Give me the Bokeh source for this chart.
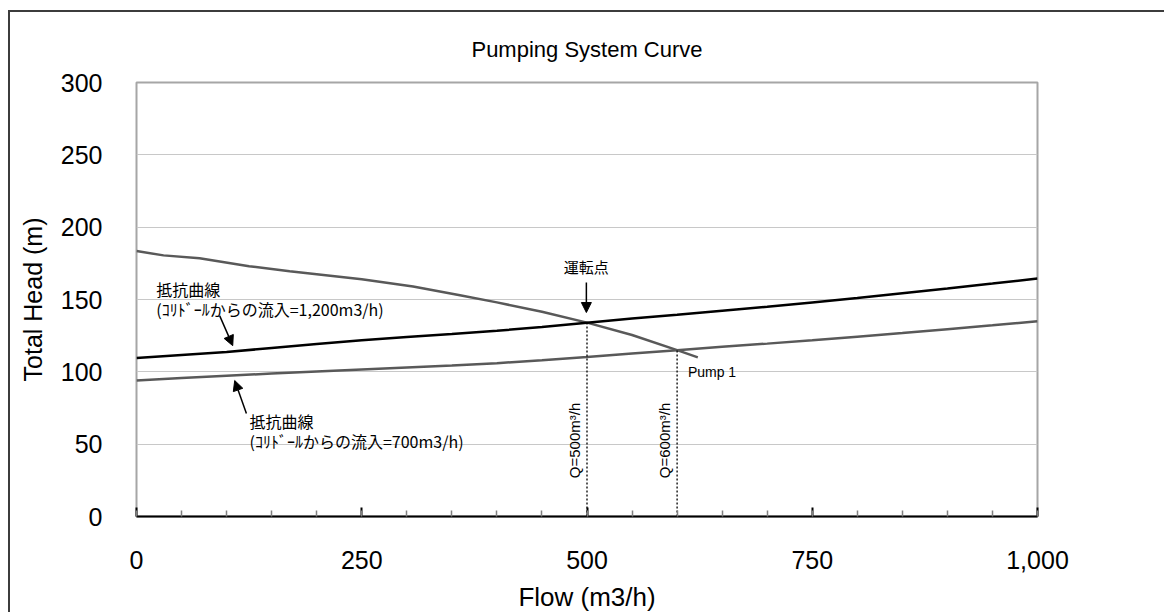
import math
from bokeh.plotting import figure
from bokeh.models import FixedTicker, NumeralTickFormatter, Arrow, NormalHead, Range1d
from bokeh.core.properties import value
from bokeh.embed import file_html
from bokeh.resources import INLINE

# ---------------- data ----------------
title_text = "Pumping System Curve"
x_label = "Flow (m3/h)"
y_label = "Total Head (m)"
x_ticks = [0, 250, 500, 750, 1000]
x_minor = [0, 50, 100, 150, 200, 250, 300, 350, 400, 450, 500, 550, 600, 650, 700, 750, 800, 850, 900, 950, 1000]
y_ticks = [0, 50, 100, 150, 200, 250, 300]

flow_sys = [0, 50, 100, 150, 200, 250, 300, 350, 400, 450, 500, 550, 600, 650, 700, 750, 800, 850, 900, 950, 1000]
head_1200 = [109.6, 111.7, 113.7, 116.5, 119.3, 121.8, 124.0, 126.1, 128.4, 131.0, 134.0, 136.8, 139.5, 142.3, 145.0, 148.0, 151.0, 154.3, 157.6, 161.0, 164.5]
head_700 = [94.0, 95.7, 97.3, 98.8, 100.2, 101.6, 103.0, 104.3, 106.0, 108.0, 110.2, 112.6, 115.0, 117.3, 119.5, 121.8, 124.3, 126.8, 129.5, 132.2, 135.0]

flow_pump = [0, 30, 70, 125, 170, 200, 250, 307, 359, 400, 450, 500, 550, 600, 623]
head_pump = [183.5, 180.5, 178.5, 173.0, 169.5, 167.5, 164.0, 159.0, 153.0, 148.0, 141.5, 134.0, 125.5, 115.0, 110.0]

op_flows = [500, 600]
op_heads = [134.0, 115.0]
op_labels = ["Q=500m\u00b3/h", "Q=600m\u00b3/h"]

curve_name_1200 = ["抵抗曲線", "(ｺﾘﾄﾞｰﾙからの流入=1,200m3/h)"]
curve_name_700 = ["抵抗曲線", "(ｺﾘﾄﾞｰﾙからの流入=700m3/h)"]
op_point_label = "運転点"
pump_label = "Pump 1"

# ---------------- figure ----------------
LAT = "Liberation Sans"
JP = "Noto Sans CJK JP"

p = figure(width=1156, height=602,
           x_range=Range1d(0, 1000), y_range=Range1d(0, 300),
           output_backend="svg", toolbar_location=None,
           min_border_left=126, min_border_top=70,
           min_border_right=129, min_border_bottom=96)
p.styles = {"border-top": "2px solid #3c3c3c", "border-left": "2px solid #3c3c3c",
            "margin-top": "10px", "margin-left": "8px"}

p.title.text = title_text
p.title.align = "center"
p.title.text_font = LAT
p.title.text_font_size = "22px"
p.title.text_font_style = "normal"
p.title.text_color = "black"
p.title.standoff = 42

p.background_fill_color = "white"
p.border_fill_color = "white"
p.outline_line_color = "#a6a6a6"
p.outline_line_width = 2

# grid
p.xgrid.grid_line_color = None
p.ygrid.ticker = FixedTicker(ticks=y_ticks)
p.ygrid.grid_line_color = "#c8c8c8"
p.ygrid.grid_line_width = 1

# x axis
xa = p.xaxis[0]
xa.ticker = FixedTicker(ticks=x_ticks, minor_ticks=x_minor)
xa.formatter = NumeralTickFormatter(format="0,0")
xa.axis_line_color = "black"
xa.axis_line_width = 2
xa.major_tick_in = 9
xa.major_tick_out = 0
xa.major_tick_line_color = "black"
xa.major_tick_line_width = 2
xa.minor_tick_in = 6
xa.minor_tick_out = 0
xa.minor_tick_line_color = "#808080"
xa.minor_tick_line_width = 1.5
xa.major_label_standoff = 34
xa.major_label_text_font = LAT
xa.major_label_text_font_size = "25px"
xa.major_label_text_color = "black"
xa.axis_label = x_label
xa.axis_label_text_font = LAT
xa.axis_label_text_font_size = "26px"
xa.axis_label_text_font_style = "normal"
xa.axis_label_text_color = "black"
xa.axis_label_standoff = 10

# y axis
ya = p.yaxis[0]
ya.ticker = FixedTicker(ticks=y_ticks)
ya.axis_line_color = None
ya.major_tick_line_color = None
ya.minor_tick_line_color = None
ya.major_tick_in = 0
ya.major_tick_out = 0
ya.major_label_standoff = 34
ya.major_label_text_font = LAT
ya.major_label_text_font_size = "25px"
ya.major_label_text_color = "black"
ya.axis_label = y_label
ya.axis_label_text_font = LAT
ya.axis_label_text_font_size = "25px"
ya.axis_label_text_font_style = "normal"
ya.axis_label_text_color = "black"
ya.axis_label_standoff = 11

# curves
p.line(flow_pump, head_pump, line_color="#595959", line_width=2.5)
p.line(flow_sys, head_700, line_color="#595959", line_width=2.5)
p.line(flow_sys, head_1200, line_color="#000000", line_width=2.5)

# operating point dotted drops
p.segment(x0=op_flows, y0=[0, 0], x1=op_flows, y1=op_heads,
          line_color="black", line_width=1.3, line_dash="2 2")
p.text(x=op_flows, y=[26.5, 26.5], text=op_labels, angle=math.pi / 2,
       x_offset=-4, text_align="left", text_baseline="bottom",
       text_font=value(LAT), text_font_size="15px", text_color="black")

# annotations
p.text(x=[22, 22], y=[157.1, 143.4], text=curve_name_1200,
       text_align="left", text_baseline="middle",
       text_font=value(JP), text_font_size="16px", text_color="black")
p.text(x=[125.5, 125.5], y=[66.3, 52.5], text=curve_name_700,
       text_align="left", text_baseline="middle",
       text_font=value(JP), text_font_size="16px", text_color="black")
p.text(x=[499.3], y=[173.1], text=[op_point_label],
       text_align="center", text_baseline="middle",
       text_font=value(JP), text_font_size="15px", text_color="black")
p.text(x=[612], y=[99.8], text=[pump_label],
       text_align="left", text_baseline="middle",
       text_font=value(LAT), text_font_size="14px", text_color="black")

def add_arrow(xs, ys, xe, ye):
    p.add_layout(Arrow(end=NormalHead(size=10, fill_color="black", line_color="black"),
                       x_start=xs, y_start=ys, x_end=xe, y_end=ye,
                       line_color="black", line_width=1.5))

add_arrow(92.4, 138.7, 106.8, 118.1)
add_arrow(122.0, 71.2, 109.0, 94.0)
add_arrow(499.3, 161.7, 499.3, 141.0)

open("out.html", "w").write(file_html(p, INLINE))
